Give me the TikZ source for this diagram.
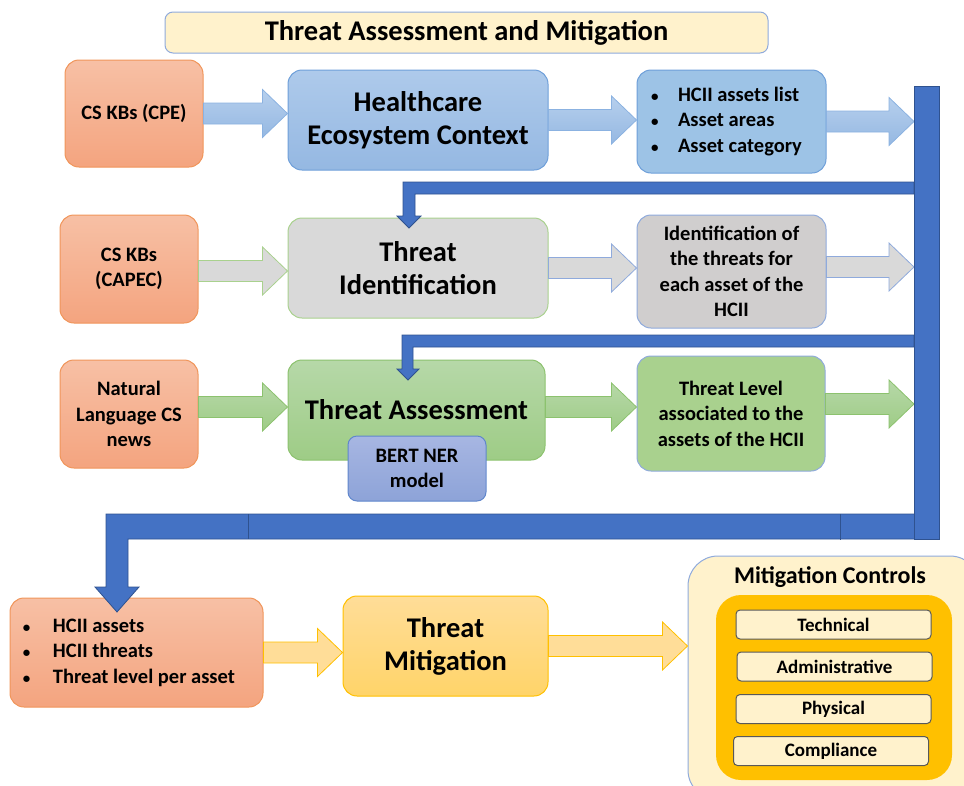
\documentclass[tikz,border=0pt]{standalone}
\usepackage{fontspec}
\setmainfont{Carlito}
\usetikzlibrary{calc}

\definecolor{orTop}{HTML}{F7C0A5}
\definecolor{orBot}{HTML}{F4A47F}
\definecolor{orLine}{HTML}{F0955A}
\definecolor{blTop}{HTML}{AECAEB}
\definecolor{blBot}{HTML}{95B8E2}
\definecolor{blLine}{HTML}{6E9FD9}
\definecolor{blFlat}{HTML}{9DC3E6}
\definecolor{grayA}{HTML}{D9D9D9}
\definecolor{grayB}{HTML}{D0CECE}
\definecolor{grTop}{HTML}{B6D8A8}
\definecolor{grBot}{HTML}{9ECC86}
\definecolor{grFlat}{HTML}{A9D18E}
\definecolor{grLine}{HTML}{8CC26E}
\definecolor{ltBlue}{HTML}{8FAADC}
\definecolor{bertTop}{HTML}{A7B6E2}
\definecolor{bertBot}{HTML}{8DA3D8}
\definecolor{bertLine}{HTML}{5F86CC}
\definecolor{ylTop}{HTML}{FFDD98}
\definecolor{ylBot}{HTML}{FFD469}
\definecolor{ylLine}{HTML}{FFC000}
\definecolor{cream}{HTML}{FFF2CC}
\definecolor{busBlue}{HTML}{4472C4}
\definecolor{busLine}{HTML}{2F528F}

\tikzset{
  box/.style={draw, rounded corners=14pt, line width=1pt, align=center, inner sep=0pt,
    font=\fontsize{20.5}{25.5}\selectfont\bfseries},
  bigbox/.style={box, font=\fontsize{28.5}{33}\selectfont\bfseries},
  source/.style={box, top color=orTop, bottom color=orBot, draw=orLine},
  listbox/.style={align=flush left, inner xsep=14pt},
  ctrlitem/.style={draw=black!65, fill=cream, rounded corners=4pt, line width=1pt,
    minimum width=195pt, minimum height=29pt, font=\fontsize{19}{22}\selectfont\bfseries},
  rowone/.style={top color=blTop!90, bottom color=blBot, draw=blLine!80, line width=0.8pt},
  rowtwo/.style={fill=grayA, draw=ltBlue, line width=0.8pt},
  rowthree/.style={top color=grTop, bottom color=grBot, draw=grLine, line width=0.8pt},
  rowfour/.style={fill=ylTop, draw=ylLine, line width=0.8pt},
  bus/.style={fill=busBlue, draw=busLine, line width=0.8pt}
}

% block arrow from #2 to the x of #3, kept at the height of #2
\newcommand\flow[3]{%
  \draw[#1] let \p1=(#2), \p2=(#3) in
    (\x1,\y1+10.5pt) -- (\x2-25pt,\y1+10.5pt) -- (\x2-25pt,\y1+24pt) -- (\x2,\y1)
    -- (\x2-25pt,\y1-24pt) -- (\x2-25pt,\y1-10.5pt) -- (\x1,\y1-10.5pt) -- cycle;}
\newcommand\bul[1][25pt]{\makebox[#1][l]{\fontsize{15}{15}\selectfont\textbullet}}

\begin{document}
\begin{tikzpicture}[x=1pt, y=-1pt]
  \clip (0,0) rectangle (964,785);

  \node[box, fill=cream, draw=ltBlue, rounded corners=8pt, minimum width=603pt, minimum height=41pt,
    font=\fontsize{28.5}{30}\selectfont\bfseries] (title) at (466.5,32.5) {Threat Assessment and Mitigation};

  % row 1
  \node[source, minimum width=138pt, minimum height=107pt] (cpe) at (134,113.5) {CS KBs (CPE)};
  \node[bigbox, top color=blTop, bottom color=blBot, draw=blLine, minimum width=260pt, minimum height=100pt]
    (hec) at (418,120) {Healthcare\\Ecosystem Context};
  \node[box, listbox, fill=blFlat, draw=blLine, text width=161pt, minimum height=103pt]
    (assets) at (731.5,121.5) {\bul[27pt]HCII assets list\\\bul[27pt]Asset areas\\\bul[27pt]Asset category};

  % row 2
  \node[source, minimum width=138pt, minimum height=108pt] (capec) at (129,269) {CS KBs\\(CAPEC)};
  \node[bigbox, fill=grayA, draw=grFlat, minimum width=260pt, minimum height=100pt]
    (ti) at (418,268) {Threat\\Identification};
  \node[box, fill=grayB, draw=ltBlue, minimum width=189pt, minimum height=113pt]
    (ident) at (731.5,271.5) {Identification of\\the threats for\\each asset of the\\HCII};

  % row 3
  \node[source, minimum width=138pt, minimum height=108pt] (news) at (129,414) {Natural\\Language CS\\news};
  \node[bigbox, top color=grTop, bottom color=grBot, draw=grLine, minimum width=257pt, minimum height=100pt]
    (ta) at (416.5,410) {Threat Assessment};
  \node[box, top color=bertTop, bottom color=bertBot, draw=bertLine, rounded corners=9pt,
    minimum width=138pt, minimum height=65pt] (bert) at (417,468.5) {BERT NER\\model};
  \node[box, fill=grFlat, draw=ltBlue, minimum width=188pt, minimum height=115pt]
    (level) at (731,413.5) {Threat Level\\associated to the\\assets of the HCII};

  % row 4
  \node[source, listbox, inner xsep=13pt, text width=227pt, minimum height=109pt]
    (hcii) at (136.5,652.5) {\bul[30pt]HCII assets\\\bul[30pt]HCII threats\\\bul[30pt]Threat level per asset};
  \node[bigbox, top color=ylTop, bottom color=ylBot, draw=ylLine, minimum width=205pt, minimum height=100pt]
    (mit) at (445.5,646) {Threat\\Mitigation};

  % mitigation controls
  \node[draw=ltBlue, fill=cream, rounded corners=30pt, line width=1pt, minimum width=292pt, minimum height=244pt]
    (ctrl) at (834,678) {};
  \node[font=\fontsize{24}{26}\selectfont\bfseries] (ctrltitle) at (830,577) {Mitigation Controls};
  \node[fill=ylLine, rounded corners=25pt, minimum width=236pt, minimum height=185pt] (inner) at (834,687.5) {};
  \node[ctrlitem] (tech) at (833.5,624.5) {Technical};
  \node[ctrlitem] (admin) at (834.5,666.5) {Administrative};
  \node[ctrlitem] (phys) at (833.5,709) {Physical};
  \node[ctrlitem] (compl) at (831,751) {Compliance};

  \coordinate (busL) at (914,0);

  % block arrows
  \flow{rowone}{cpe.east}{hec.west}
  \flow{rowone}{hec.east}{assets.west}
  \flow{rowone}{assets.east}{busL}
  \flow{rowtwo, draw=grFlat}{[yshift=-2pt]capec.east}{ti.west}
  \flow{rowtwo}{ti.east}{ident.west}
  \flow{rowtwo}{[yshift=4.5pt]ident.east}{busL}
  \flow{rowthree}{[yshift=7pt]news.east}{ta.west}
  \flow{rowthree}{[yshift=3pt]ta.east}{level.west}
  \flow{rowthree}{[yshift=9.5pt]level.east}{busL}
  \flow{rowfour}{hcii.east}{mit.west}
  \flow{rowfour}{mit.east}{ctrl.west}

  % feedback bus
  \draw[bus] (914,182) -- (403,182) -- (403,216) -- (397,216) -- (409,228) -- (421,216)
    -- (415,216) -- (415,194) -- (914,194) -- cycle;
  \draw[bus] (914,335) -- (402,335) -- (402,369) -- (397,369) -- (408,380) -- (419,369)
    -- (413,369) -- (413,347) -- (914,347) -- cycle;
  \draw[bus] (939,514) -- (106,514) -- (106,587) -- (95,587) -- (117,612) -- (139,587)
    -- (128,587) -- (128,539) -- (939,539) -- cycle;
  \draw[bus] (914,86) rectangle (939,539);
  \draw[busLine, line width=0.8pt] (248,514) -- (248,539) (840,514) -- (840,540);
\end{tikzpicture}
\end{document}
